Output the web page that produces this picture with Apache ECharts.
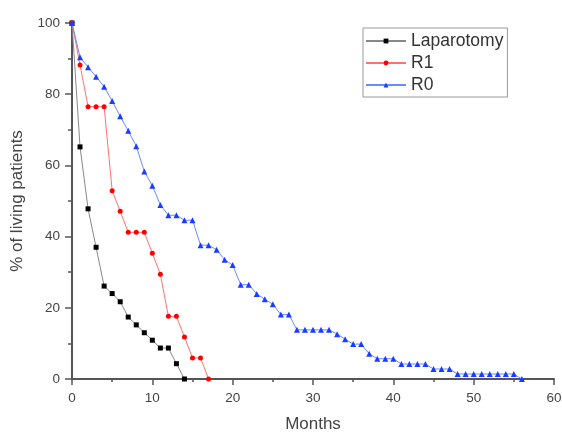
<!DOCTYPE html>
<html>
<head>
<meta charset="utf-8">
<script src="https://cdn.jsdelivr.net/npm/echarts@6/dist/echarts.min.js"></script>
<style>
  html, body { margin: 0; padding: 0; background: #fff; }
  #chart { width: 562px; height: 433px; }
</style>
</head>
<body>
<div id="chart"></div>
<script>
// Survival curves: % of living patients by month
const lapMonths = [0, 1, 2, 3, 4, 5, 6, 7, 8, 9, 10, 11, 12, 13, 14];
const lapValues = [100, 65.2, 47.8, 37, 26.1, 24, 21.7, 17.4, 15.2, 13, 10.9, 8.7, 8.7, 4.3, 0];

const r1Months = [0, 1, 2, 3, 4, 5, 6, 7, 8, 9, 10, 11, 12, 13, 14, 15, 16, 17];
const r1Values = [100, 88.2, 76.5, 76.5, 76.5, 52.9, 47.1, 41.2, 41.2, 41.2, 35.3, 29.4, 17.6, 17.6, 11.8, 5.9, 5.9, 0];

const r0Months = [0, 1, 2, 3, 4, 5, 6, 7, 8, 9, 10, 11, 12, 13, 14, 15, 16, 17, 18, 19,
  20, 21, 22, 23, 24, 25, 26, 27, 28, 29, 30, 31, 32, 33, 34, 35, 36, 37, 38, 39,
  40, 41, 42, 43, 44, 45, 46, 47, 48, 49, 50, 51, 52, 53, 54, 55, 56];
const r0Values = [100, 90.4, 87.6, 84.9, 82.1, 78.1, 73.8, 69.7, 65.4, 58.3, 54.3, 48.9, 46, 46, 44.6, 44.6, 37.6, 37.6, 36.3, 33.5,
  32, 26.5, 26.5, 23.9, 22.4, 21, 18.1, 18.1, 13.8, 13.8, 13.8, 13.8, 13.8, 12.6, 11.2, 9.8, 9.8, 7.1, 5.7, 5.7,
  5.7, 4.2, 4.2, 4.2, 4.2, 2.8, 2.8, 2.8, 1.4, 1.4, 1.4, 1.4, 1.4, 1.4, 1.4, 1.4, 0];

const xTicks = { min: 0, max: 60, step: 10 };
const yTicks = { min: 0, max: 100, step: 20 };

function pairs(xs, ys) { return xs.map((x, i) => [x, ys[i]]); }

const font = 'Liberation Sans, Arial, sans-serif';
const axisColor = '#555';
const labelColor = '#444';

const chart = echarts.init(document.getElementById('chart'), null, { renderer: 'canvas' });
chart.setOption({
  animation: false,
  backgroundColor: '#fff',
  grid: { left: 72, right: 8, top: 23, bottom: 54, containLabel: false, outerBoundsMode: 'none' },
  legend: {
    orient: 'vertical',
    left: 363,
    top: 28,
    padding: [4, 4, 3, 2],
    itemGap: 4,
    itemWidth: 40,
    itemHeight: 6,
    borderColor: '#999',
    borderWidth: 1,
    textStyle: { fontFamily: font, fontSize: 17.5, lineHeight: 17, color: '#333' },
    data: ['Laparotomy', 'R1', 'R0']
  },
  xAxis: {
    type: 'value',
    min: xTicks.min, max: xTicks.max, interval: xTicks.step,
    name: 'Months',
    nameLocation: 'middle',
    nameGap: 37,
    nameTextStyle: { fontFamily: font, fontSize: 17, color: '#444' },
    axisLine: { show: true, lineStyle: { color: axisColor, width: 2 } },
    axisTick: { show: true, length: 6, lineStyle: { color: axisColor, width: 1.5 } },
    minorTick: { show: true, splitNumber: 2, length: 3, lineStyle: { color: axisColor, width: 1.5 } },
    axisLabel: { fontFamily: font, fontSize: 13.5, color: labelColor, margin: 12 },
    splitLine: { show: false }
  },
  yAxis: {
    type: 'value',
    min: yTicks.min, max: yTicks.max, interval: yTicks.step,
    name: '% of living patients',
    nameLocation: 'middle',
    nameGap: 46,
    nameTextStyle: { fontFamily: font, fontSize: 17, color: '#444' },
    axisLine: { show: true, lineStyle: { color: axisColor, width: 2 } },
    axisTick: { show: true, length: 7, lineStyle: { color: axisColor, width: 1.5 } },
    minorTick: { show: true, splitNumber: 2, length: 4, lineStyle: { color: axisColor, width: 1.5 } },
    axisLabel: { fontFamily: font, fontSize: 13.5, color: labelColor, margin: 12 },
    splitLine: { show: false }
  },
  series: [
    {
      name: 'Laparotomy', type: 'line', data: pairs(lapMonths, lapValues),
      symbol: 'rect', symbolSize: 5, showAllSymbol: true,
      itemStyle: { color: '#000' },
      lineStyle: { color: '#888', width: 1 },
      z: 2
    },
    {
      name: 'R1', type: 'line', data: pairs(r1Months, r1Values),
      symbol: 'circle', symbolSize: 5, showAllSymbol: true,
      itemStyle: { color: '#f00' },
      lineStyle: { color: '#ff7070', width: 1 },
      z: 3
    },
    {
      name: 'R0', type: 'line', data: pairs(r0Months, r0Values),
      symbol: 'triangle', symbolSize: 6, showAllSymbol: true,
      itemStyle: { color: '#1a3cff' },
      lineStyle: { color: '#6a8cff', width: 1 },
      z: 4
    }
  ]
});
</script>
</body>
</html>
